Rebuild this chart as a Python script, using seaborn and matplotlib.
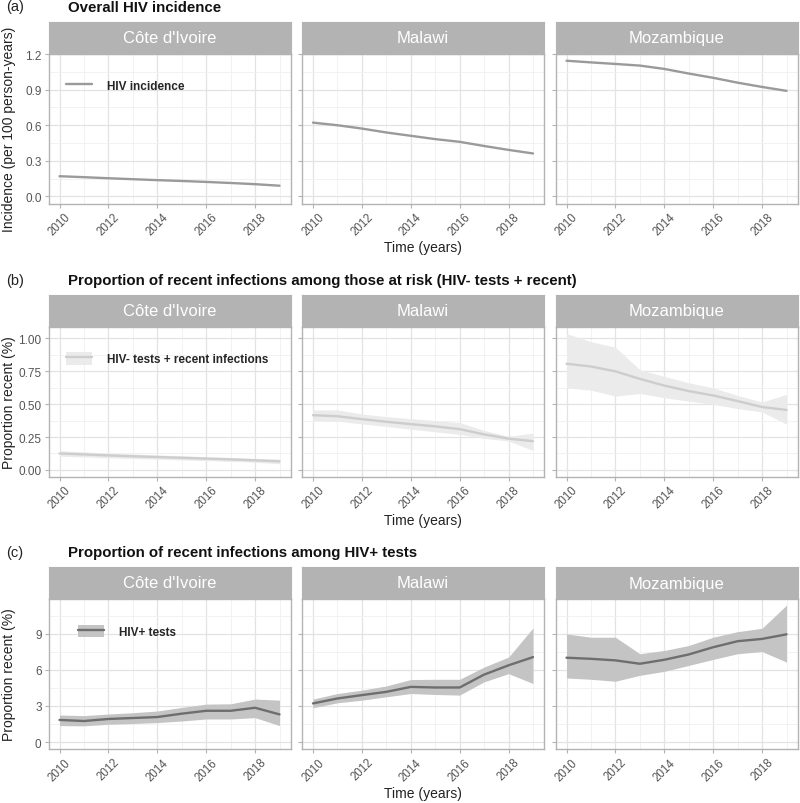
import pandas as pd
import seaborn as sns
import matplotlib.pyplot as plt
from matplotlib.lines import Line2D
from matplotlib.patches import Patch
from matplotlib.ticker import MultipleLocator, FixedLocator
from matplotlib.transforms import ScaledTranslation

years = list(range(2010, 2020))
countries = ["Côte d'Ivoire", "Malawi", "Mozambique"]

# (a) overall HIV incidence, per 100 person-years
inc_civ = [0.17, 0.162, 0.153, 0.145, 0.137, 0.13, 0.122, 0.113, 0.103, 0.09]
inc_mwi = [0.622, 0.60, 0.572, 0.539, 0.511, 0.483, 0.46, 0.425, 0.392, 0.362]
inc_moz = [1.144, 1.13, 1.117, 1.103, 1.075, 1.036, 1.0, 0.959, 0.923, 0.89]

# (b) proportion recent among those at risk (HIV- tests + recent)
neg_civ = [0.125, 0.118, 0.11, 0.104, 0.098, 0.092, 0.086, 0.08, 0.073, 0.065]
neg_civ_lo = [0.105, 0.099, 0.092, 0.087, 0.082, 0.076, 0.071, 0.065, 0.058, 0.047]
neg_civ_hi = [0.145, 0.137, 0.128, 0.121, 0.114, 0.108, 0.101, 0.095, 0.088, 0.083]
neg_mwi = [0.416, 0.408, 0.386, 0.366, 0.348, 0.331, 0.31, 0.27, 0.238, 0.218]
neg_mwi_lo = [0.373, 0.37, 0.35, 0.33, 0.31, 0.29, 0.27, 0.24, 0.22, 0.148]
neg_mwi_hi = [0.456, 0.456, 0.425, 0.405, 0.39, 0.375, 0.36, 0.30, 0.255, 0.28]
neg_moz = [0.807, 0.786, 0.749, 0.692, 0.641, 0.599, 0.566, 0.523, 0.478, 0.456]
neg_moz_lo = [0.624, 0.606, 0.561, 0.581, 0.549, 0.523, 0.498, 0.466, 0.441, 0.348]
neg_moz_hi = [1.037, 0.975, 0.932, 0.762, 0.711, 0.662, 0.624, 0.566, 0.516, 0.574]

# (c) proportion recent among HIV+ tests
pos_civ = [1.84, 1.75, 1.92, 2.0, 2.08, 2.36, 2.6, 2.6, 2.85, 2.3]
pos_civ_lo = [1.37, 1.35, 1.48, 1.54, 1.62, 1.75, 1.92, 1.92, 2.03, 1.37]
pos_civ_hi = [2.25, 2.2, 2.33, 2.44, 2.58, 2.88, 3.15, 3.18, 3.57, 3.48]
pos_mwi = [3.21, 3.62, 3.9, 4.17, 4.58, 4.53, 4.53, 5.6, 6.37, 7.05]
pos_mwi_lo = [2.85, 3.26, 3.48, 3.76, 4.03, 3.95, 3.9, 5.0, 5.68, 4.86]
pos_mwi_hi = [3.57, 4.03, 4.31, 4.66, 5.19, 5.21, 5.21, 6.23, 7.05, 9.47]
pos_moz = [7.0, 6.91, 6.78, 6.5, 6.83, 7.27, 7.87, 8.37, 8.56, 8.94]
pos_moz_lo = [5.32, 5.21, 5.05, 5.54, 5.87, 6.36, 6.86, 7.33, 7.51, 6.64]
pos_moz_hi = [8.97, 8.7, 8.7, 7.33, 7.6, 8.01, 8.7, 9.16, 9.44, 11.36]


def long_frame(series, lows=None, highs=None):
    rows = []
    for i, country in enumerate(countries):
        for j, yr in enumerate(years):
            rows.append({
                "year": yr, "country": country, "value": series[i][j],
                "lo": lows[i][j] if lows else None,
                "hi": highs[i][j] if highs else None,
            })
    return pd.DataFrame(rows)


panels = [
    dict(tag="(a)", title="Overall HIV incidence",
         data=long_frame([inc_civ, inc_mwi, inc_moz]), band=False,
         ylabel="Incidence (per 100 person-years)", label="HIV incidence",
         color="#9a9a9a", fill=None, ylim=(-0.06, 1.205),
         ticks=[0, 0.3, 0.6, 0.9, 1.2], fmt="{:.1f}", top=54.5, leg_x=0.03),
    dict(tag="(b)", title="Proportion of recent infections among those at risk (HIV- tests + recent)",
         data=long_frame([neg_civ, neg_mwi, neg_moz],
                         [neg_civ_lo, neg_mwi_lo, neg_moz_lo],
                         [neg_civ_hi, neg_mwi_hi, neg_moz_hi]), band=True,
         ylabel="Proportion recent (%)", label="HIV- tests + recent infections",
         color="#cdcdcd", fill="#ebebeb", ylim=(-0.05, 1.09),
         ticks=[0, 0.25, 0.5, 0.75, 1.0], fmt="{:.2f}", top=327.5, leg_x=0.03),
    dict(tag="(c)", title="Proportion of recent infections among HIV+ tests",
         data=long_frame([pos_civ, pos_mwi, pos_moz],
                         [pos_civ_lo, pos_mwi_lo, pos_moz_lo],
                         [pos_civ_hi, pos_mwi_hi, pos_moz_hi]), band=True,
         ylabel="Proportion recent (%)", label="HIV+ tests",
         color="#6e6e6e", fill="#c4c4c4", ylim=(-0.57, 11.87),
         ticks=[0, 3, 6, 9], fmt="{:.0f}", top=600, leg_x=0.08),
]

sns.set_style("white")
plt.rcParams["font.family"] = ["Liberation Sans", "DejaVu Sans"]

W, H = 800, 804
fig = plt.figure(figsize=(W / 100, H / 100), dpi=100)
lefts = [48.5, 302, 555.5]
pw, ph, sh = 242, 150, 32
grey70 = "#b3b3b3"
shift = ScaledTranslation(4 / 100, 0, fig.dpi_scale_trans)


def box(x, y_top, w, h):
    return [x / W, 1 - (y_top + h) / H, w / W, h / H]


for p in panels:
    top = p["top"]
    fig.text(6 / W, 1 - (top - 47) / H, p["tag"], fontsize=10.5, va="center", color="#222222")
    fig.text(68 / W, 1 - (top - 47) / H, p["title"], fontsize=10.8, fontweight="bold",
             va="center", color="#111111")
    fig.text((48 + 797) / 2 / W, 1 - (top + ph + 44) / H, "Time (years)", fontsize=10,
             ha="center", va="center", color="#222222")

    for k, country in enumerate(countries):
        sub = p["data"][p["data"]["country"] == country]

        strip = fig.add_axes(box(lefts[k], top - sh, pw, sh))
        strip.set_facecolor(grey70)
        strip.set_xticks([])
        strip.set_yticks([])
        for s in strip.spines.values():
            s.set_color(grey70)
        strip.text(0.5, 0.5, country, color="white", fontsize=12, ha="center",
                   va="center", transform=strip.transAxes)

        ax = fig.add_axes(box(lefts[k], top, pw, ph))
        if p["band"]:
            ax.fill_between(sub["year"], sub["lo"], sub["hi"], color=p["fill"], lw=0, zorder=2)
        sns.lineplot(data=sub, x="year", y="value", ax=ax, color=p["color"], lw=1.7,
                     legend=False, zorder=3)

        ax.set_xlim(2009.55, 2019.45)
        ax.set_ylim(*p["ylim"])
        ax.set_xticks([2010, 2012, 2014, 2016, 2018])
        ax.set_xticklabels(["2010", "2012", "2014", "2016", "2018"], rotation=45,
                           ha="center", va="top", fontsize=8.3, color="#555555")
        for lab in ax.get_xticklabels():
            lab.set_transform(lab.get_transform() + shift)
        ax.xaxis.set_minor_locator(MultipleLocator(1))
        ax.set_yticks(p["ticks"])
        step = p["ticks"][1] - p["ticks"][0]
        ax.yaxis.set_minor_locator(FixedLocator([t + step / 2 for t in p["ticks"]]))
        if k == 0:
            ax.set_yticklabels([p["fmt"].format(t) for t in p["ticks"]], fontsize=8.5,
                               color="#555555")
            ax.set_ylabel(p["ylabel"], fontsize=10, color="#222222")
            ax.yaxis.set_label_coords((16 - lefts[0]) / pw, 0.5)
        else:
            ax.set_yticklabels([])
            ax.set_ylabel("")
        ax.set_xlabel("")
        ax.grid(which="major", color="#e3e3e3", lw=0.9, zorder=0)
        ax.grid(which="minor", color="#f0f0f0", lw=0.6, zorder=0)
        ax.set_axisbelow(True)
        ax.tick_params(which="major", length=3, width=0.8, color=grey70, pad=2,
                       bottom=True, left=True)
        ax.tick_params(which="minor", length=0)
        for s in ax.spines.values():
            s.set_color(grey70)
            s.set_linewidth(1)

        if k == 0:
            line = Line2D([], [], color=p["color"], lw=1.7)
            handle = (Patch(color=p["fill"], lw=0), line) if p["band"] else line
            ax.legend([handle], [p["label"]], loc="center left",
                      bbox_to_anchor=(p["leg_x"], 0.785), frameon=False,
                      prop={"weight": "bold", "size": 8.5}, handlelength=2.2,
                      handleheight=1.3, handletextpad=1.2)

fig.savefig("out.png", dpi=100)
